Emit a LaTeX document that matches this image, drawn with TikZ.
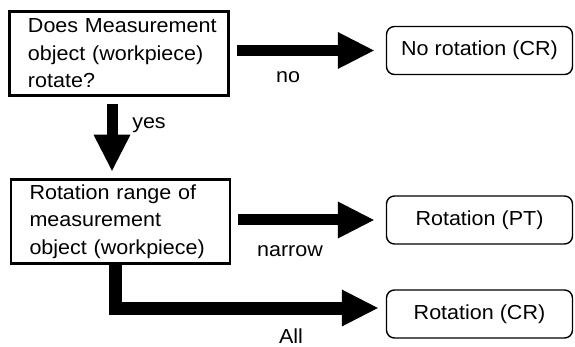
\documentclass[tikz,border=0pt]{standalone}
\usepackage{fontspec}
\setmainfont{Liberation Sans}[FakeStretch=1.06]
\usetikzlibrary{arrows.meta}
\begin{document}
\begin{tikzpicture}[x=1pt, y=-1pt,
        question/.style={draw, line width=2.6pt, minimum width=219pt, minimum height=84pt,
            text width=214pt, align=left, inner sep=0pt,
            execute at begin node={\leftskip=16pt\hyphenpenalty=10000}},
        result/.style={draw, line width=1.4pt, rounded corners=8pt, minimum width=186pt,
            minimum height=48pt},
        bigarrow/.style={line width=11pt, -{Triangle[length=37pt, width=34pt]}},
        font=\fontsize{20.3}{27.5}\selectfont]
        \useasboundingbox (0,0) rectangle (575,347);
        \node[question] (rot) at (119,53.5) {Does Measurement\\object (workpiece)\\rotate?};
        \node[question] (range) at (120.5,221.5) {Rotation range of\\measurement\\object (workpiece)};
        \foreach \n/\y/\t in {norot/50.5/No rotation (CR), pt/220/Rotation (PT), cr/314/Rotation (CR)}{
            \node[result] (\n) at (479.5,\y) {\t};}
        \draw[bigarrow] ([xshift=7pt]rot.east |- norot.west) -- ([xshift=-11pt]norot.west);
        \draw[bigarrow] ([shift={(-7pt,-7pt)}]rot.south) -- ([shift={(-8.5pt,6.5pt)}]range.north);
        \draw[bigarrow] ([xshift=7pt]range.east |- pt.west) -- ([xshift=-11pt]pt.west);
        \draw[bigarrow, line width=13pt] ([xshift=-5.5pt]range.south)
            |- ([shift={(-7pt,6pt)}]cr.west);
        \node (no) at (288,77) {no};
        \node (yes) at (149,125) {yes};
        \node (narrow) at (290,251) {narrow};
        \node (all) at (291,336) {All};
    \end{tikzpicture}
\end{document}
